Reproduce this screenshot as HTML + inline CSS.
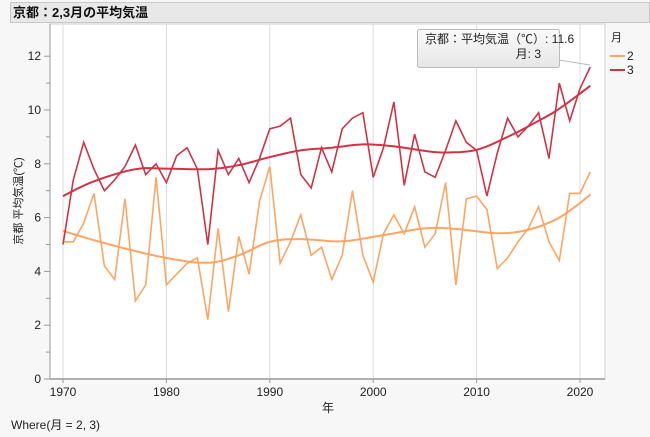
<!DOCTYPE html>
<html><head><meta charset="utf-8"><style>
body{margin:0;background:#f7f7f7;font-family:"Liberation Sans","Noto Sans CJK JP",sans-serif;}
</style></head><body>
<svg id="s" width="650" height="437" xmlns="http://www.w3.org/2000/svg" style="display:block">
<rect x="0" y="0" width="650" height="437" fill="#f7f7f7"/>
<rect x="10.5" y="2.5" width="639" height="20" fill="#e8e8e8" stroke="#c8c8c8"/>
<text x="13" y="17" font-size="13" font-weight="bold" fill="#111">京都：2,3月の平均気温</text>
<rect x="50" y="24" width="555" height="355" fill="#fff" stroke="#cfcfcf"/>
<g id="grid"></g>
<line x1="50" y1="24" x2="50" y2="379" stroke="#999"/>
<line x1="50" y1="379" x2="605" y2="379" stroke="#999" stroke-width="1.5"/>
<g id="lines"></g>
<g font-size="12" fill="#222" id="lab"></g>
<text x="328" y="412" font-size="12" text-anchor="middle" fill="#222">年</text>
<text transform="translate(22,201) rotate(-90)" font-size="11" text-anchor="middle" fill="#222">京都 平均気温(℃)</text>
<text x="11" y="429" font-size="12" fill="#222">Where(月 = 2, 3)</text>
<text x="611" y="41" font-size="11" fill="#222">月</text>
<line x1="610" y1="56" x2="625" y2="56" stroke="#ffa563" stroke-width="2"/>
<text x="627" y="60" font-size="12" fill="#222">2</text>
<line x1="610" y1="70" x2="625" y2="70" stroke="#d03346" stroke-width="2"/>
<text x="627" y="74" font-size="12" fill="#222">3</text>
<line x1="559" y1="60" x2="590" y2="65" stroke="#bbb"/>
<defs><linearGradient id="g" x1="0" y1="0" x2="0" y2="1"><stop offset="0" stop-color="#fafafa"/><stop offset="1" stop-color="#e6e6e6"/></linearGradient></defs>
<rect x="417.5" y="29.5" width="142" height="38" rx="2" fill="url(#g)" stroke="#bbb"/>
<text x="425" y="43" font-size="12" fill="#222">京都：平均気温（℃）: 11.6</text>
<text x="541" y="58" font-size="12" fill="#222" text-anchor="end">月: 3</text>
</svg>
<script>
var X=function(y){return 63+(y-1970)*10.34},Y=function(v){return 379-v*26.9};
var ns="http://www.w3.org/2000/svg";
function el(p,t,a){var e=document.createElementNS(ns,t);for(var k in a)e.setAttribute(k,a[k]);document.getElementById(p).appendChild(e);return e;}
for(var yr=1970;yr<=2020;yr+=10){el("grid","line",{x1:X(yr),y1:24,x2:X(yr),y2:379,stroke:"#dcdcdc"});
 el("lab","line",{x1:X(yr),y1:379,x2:X(yr),y2:383,stroke:"#999"});
 var t=el("lab","text",{x:X(yr),y:396,"text-anchor":"middle"});t.textContent=yr;}
for(var v=0;v<=12;v++){var y=Y(v);el("lab","line",{x1:v%2?46:44,y1:y,x2:50,y2:y,stroke:"#999"});
 if(v%2==0){var t=el("lab","text",{x:41,y:y+4,"text-anchor":"end"});t.textContent=v;}}
var m3=[5.0,7.4,8.8,7.8,7.0,7.4,7.9,8.7,7.6,8.0,7.3,8.3,8.6,7.8,5.0,8.5,7.6,8.2,7.3,8.2,9.3,9.4,9.7,7.6,7.1,8.6,7.7,9.3,9.7,9.9,7.5,8.6,10.3,7.2,9.1,7.7,7.5,8.5,9.6,8.8,8.5,6.8,8.4,9.7,9.0,9.4,9.9,8.2,11.0,9.6,10.8,11.6];
var m2=[5.1,5.1,5.8,6.9,4.2,3.7,6.7,2.9,3.5,7.5,3.5,3.9,4.3,4.5,2.2,5.6,2.5,5.3,3.9,6.6,7.9,4.3,5.1,6.1,4.6,4.9,3.7,4.6,7.0,4.6,3.6,5.4,6.1,5.4,6.4,4.9,5.4,7.3,3.5,6.7,6.8,6.3,4.1,4.5,5.1,5.6,6.4,5.1,4.4,6.9,6.9,7.7];
var s3=[[1970,6.8],[1973,7.35],[1977,7.8],[1980,7.82],[1984,7.8],[1987,7.95],[1990,8.25],[1993,8.5],[1996,8.6],[1999,8.72],[2002,8.65],[2005,8.48],[2007,8.42],[2010,8.52],[2013,9.0],[2016,9.6],[2018,10.05],[2021,10.9]];
var s2=[[1970,5.5],[1975,4.95],[1980,4.5],[1984,4.32],[1987,4.6],[1990,5.1],[1993,5.2],[1997,5.12],[2001,5.35],[2005,5.6],[2008,5.58],[2012,5.42],[2015,5.55],[2018,6.0],[2021,6.85]];
function pl(d,yr0){return d.map(function(v,i){return X(yr0+i).toFixed(1)+","+Y(v).toFixed(1)}).join(" ");}
function sm(d){var p=[];for(var i=0;i<d.length-1;i++){var p0=d[Math.max(0,i-1)],p1=d[i],p2=d[i+1],p3=d[Math.min(d.length-1,i+2)];
 for(var t=0;t<1;t+=0.1){var t2=t*t,t3=t2*t;var f=function(a,b,c,e){return 0.5*(2*b+(-a+c)*t+(2*a-5*b+4*c-e)*t2+(-a+3*b-3*c+e)*t3)};
 p.push(X(f(p0[0],p1[0],p2[0],p3[0])).toFixed(1)+","+Y(f(p0[1],p1[1],p2[1],p3[1])).toFixed(1));}}
 var l=d[d.length-1];p.push(X(l[0])+","+Y(l[1]));return p.join(" ");}
el("lines","polyline",{points:pl(m2,1970),fill:"none",stroke:"#ffa563","stroke-width":1.6});
el("lines","polyline",{points:sm(s2),fill:"none",stroke:"#ffa563","stroke-width":2});
el("lines","polyline",{points:pl(m3,1970),fill:"none",stroke:"#d03346","stroke-width":1.6});
el("lines","polyline",{points:sm(s3),fill:"none",stroke:"#d03346","stroke-width":2});
</script>
</body></html>
